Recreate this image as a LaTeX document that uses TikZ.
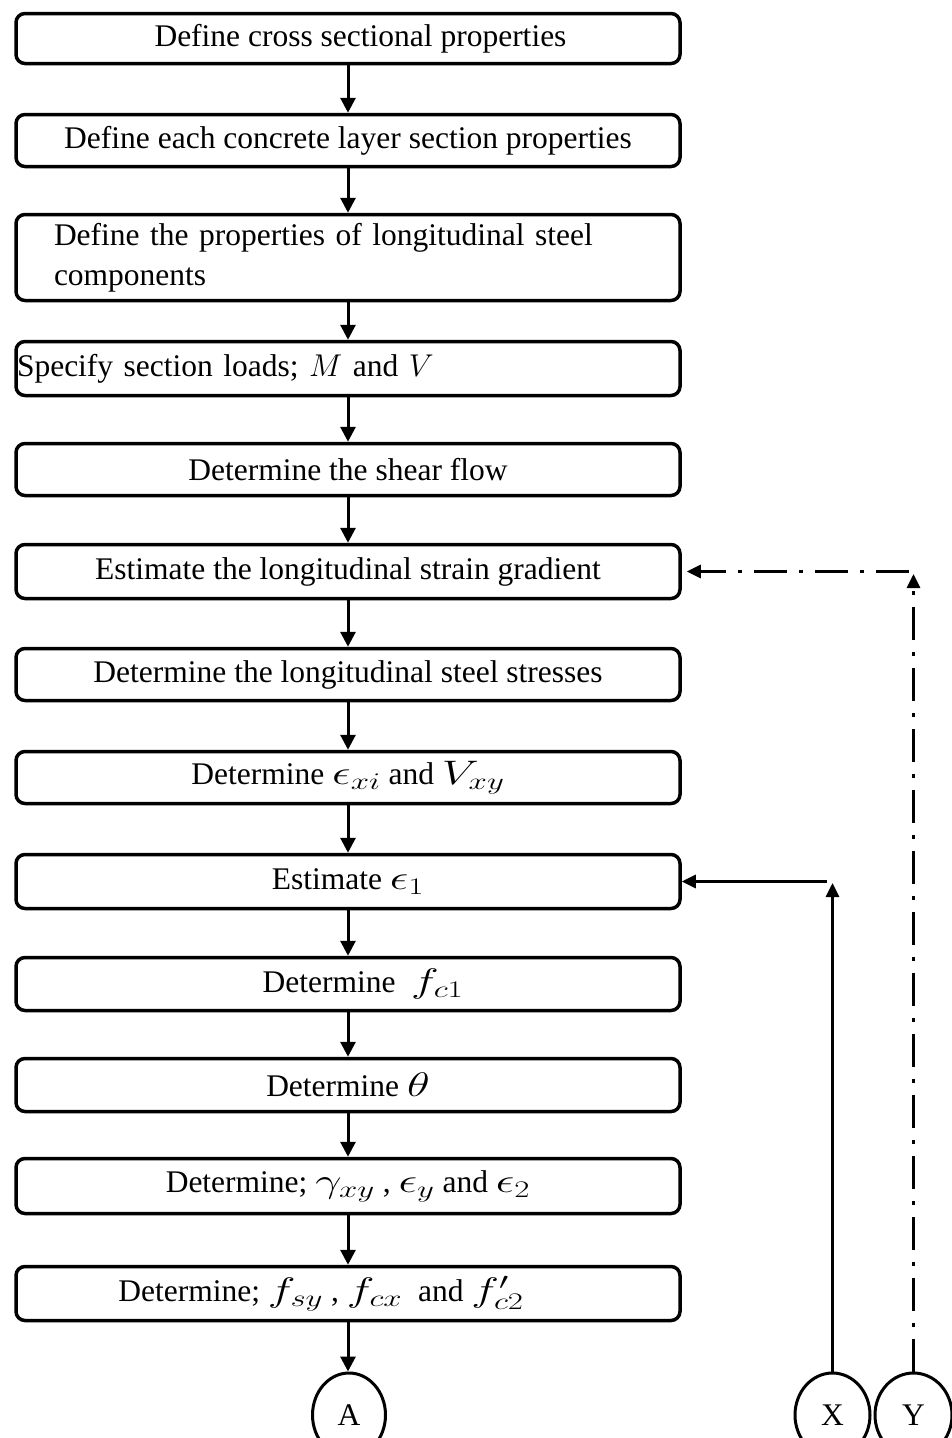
\documentclass[tikz,border=0pt]{standalone}
\usepackage{fix-cm}
\usepackage{fontspec}
\setmainfont{Liberation Serif}
\usetikzlibrary{arrows.meta,shapes.geometric}
% equation symbols set a little larger and wider than the running text
\newcommand{\mth}[1]{\scalebox{1.38}[1]{\fontsize{34}{40}\selectfont$#1$}}

\begin{document}
\begin{tikzpicture}[x=1pt,y=-1pt,
  every node/.style={font=\fontsize{31.5}{40}\selectfont},
  box/.style={draw,line width=3.5pt,rounded corners=9pt,minimum width=664pt,inner sep=0pt},
  flow/.style={line width=3pt,-{Triangle[length=15pt,width=15pt]}},
  conn/.style={draw,ellipse,line width=3pt,minimum width=73pt,minimum height=84pt,inner sep=0pt},
  loopback/.style={line width=3pt,-{Triangle[length=14pt,width=13pt]}},
  dashdot/.style={dash pattern=on 33pt off 12pt on 4pt off 12pt}
]
\useasboundingbox (0,0) rectangle (952,1438);
\clip (0,0) rectangle (952,1438);

% process steps
\node[box,minimum height=50pt] (b1) at (348,38.5) {\hspace*{25pt}Define cross sectional properties};
\node[box,minimum height=52pt] (b2) at (348,140.5) {Define each concrete layer section properties};
\node[box,minimum height=86pt,text width=588pt,align=left] (b3) at (348,257.5)
  {Define the properties of longitudinal steel\\components};
\node[box,minimum height=54pt,text width=662pt,align=left] (b4) at (348,368.5)
  {Specify section loads; $M$ and $V$};
\node[box,minimum height=52pt] (b5) at (348,469.5) {Determine the shear flow};
\node[box,minimum height=54pt] (b6) at (348,571.5) {Estimate the longitudinal strain gradient};
\node[box,minimum height=52pt] (b7) at (348,674.5) {Determine the longitudinal steel stresses};
\node[box,minimum height=52pt] (b8) at (348,777.5) {Determine \mth{\epsilon_{xi}} and \mth{V_{xy}}};
\node[box,minimum height=54pt] (b9) at (348,881.5) {Estimate \mth{\epsilon_1}};
\node[box,minimum height=53pt] (b10) at (348,984) {\hspace*{30pt}Determine\ \ \mth{f_{c1}}};
\node[box,minimum height=53pt] (b11) at (348,1085) {Determine \mth{\theta}};
\node[box,minimum height=55pt] (b12) at (348,1186) {Determine; \mth{\gamma_{xy}} , \mth{\epsilon_y} and \mth{\epsilon_2}};
\node[box,minimum height=54pt] (b13) at (348,1293.5) {Determine; \mth{f_{sy}} , \mth{f_{cx}}\ \ and \mth{f'_{c2}}\hspace*{54pt}};

% off-page connectors
\node[conn] (A) at (349,1415) {A};
\node[conn,minimum width=75pt] (X) at (832.5,1415) {X};
\node[conn,minimum width=77pt] (Y) at (913.5,1415) {Y};

% main flow
\foreach \a/\b in {b1/b2,b2/b3,b3/b4,b4/b5,b5/b6,b6/b7,b7/b8,b8/b9,b9/b10,b10/b11,b11/b12,b12/b13}
  \draw[flow] (\a.south) -- (\b.north);
\draw[flow] (b13.south) -- (b13.south |- A.north);

% return path from X
\coordinate (xtip) at (832.5,883);
\coordinate (xcorner) at (827,881.5);
\draw[loopback] (X.north) -- (xtip);
\draw[loopback] (xcorner) -- (b9.east);

% return path from Y
\coordinate (ytip) at (913.5,574);
\coordinate (ycorner) at (909,571.5);
\draw[loopback,dashdot] (Y.north) -- (ytip);
\draw[loopback,dashdot,shorten >=5pt] (ycorner) -- (b6.east);
\end{tikzpicture}
\end{document}
